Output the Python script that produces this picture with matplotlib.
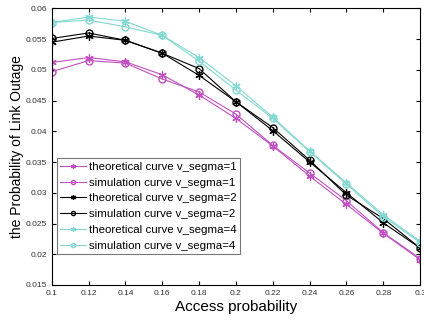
import matplotlib
matplotlib.use('Agg')
import matplotlib.pyplot as plt

plt.rcParams['font.family'] = ['Liberation Sans', 'DejaVu Sans']

p = [0.1, 0.12, 0.14, 0.16, 0.18, 0.2, 0.22, 0.24, 0.26, 0.28, 0.3]

theory_1 = [0.0512, 0.0520, 0.0513, 0.0492, 0.0459, 0.0421, 0.0376, 0.0327, 0.0281, 0.0234, 0.0191]
sim_1 = [0.0497, 0.0515, 0.0511, 0.0485, 0.0464, 0.0428, 0.0377, 0.0332, 0.0287, 0.0235, 0.0193]
theory_2 = [0.0545, 0.0555, 0.0548, 0.0527, 0.0491, 0.0448, 0.0401, 0.0350, 0.0300, 0.0251, 0.0210]
sim_2 = [0.0551, 0.0560, 0.0548, 0.0527, 0.0502, 0.0448, 0.0406, 0.0353, 0.0296, 0.0258, 0.0210]
theory_4 = [0.0577, 0.0586, 0.0579, 0.0556, 0.0520, 0.0474, 0.0423, 0.0368, 0.0316, 0.0264, 0.0221]
sim_4 = [0.0577, 0.0581, 0.0570, 0.0556, 0.0514, 0.0467, 0.0421, 0.0367, 0.0314, 0.0261, 0.0219]

magenta = '#c050c0'
cyan = '#80d8d0'
star = (6, 2, 0)  # matlab-like asterisk

fig = plt.figure(figsize=(4.24, 3.22), dpi=100)
ax = fig.add_axes([0.122, 0.115, 0.869, 0.859])

ax.plot(p, theory_1, color=magenta, marker=star, ms=6, mew=0.9, lw=0.8, label='theoretical curve v_segma=1')
ax.plot(p, sim_1, color=magenta, marker='o', ms=5, mfc='none', lw=0.8, label='simulation curve v_segma=1')
ax.plot(p, theory_2, color='black', marker=star, ms=6, mew=0.9, lw=0.8, label='theoretical curve v_segma=2')
ax.plot(p, sim_2, color='black', marker='o', ms=5, mfc='none', lw=0.8, label='simulation curve v_segma=2')
ax.plot(p, theory_4, color=cyan, marker=star, ms=6, mew=0.9, lw=0.8, label='theoretical curve v_segma=4')
ax.plot(p, sim_4, color=cyan, marker='o', ms=5, mfc='none', lw=0.8, label='simulation curve v_segma=4')

ax.set_xlim(0.1, 0.3)
ax.set_ylim(0.015, 0.06)
ax.set_xticks(p)
ax.set_xticklabels([f'{v:g}' for v in p])
ax.set_yticks([0.015, 0.02, 0.025, 0.03, 0.035, 0.04, 0.045, 0.05, 0.055, 0.06])
ax.set_yticklabels(['0.015', '0.02', '0.025', '0.03', '0.035', '0.04', '0.045', '0.05', '0.055', '0.06'])
ax.tick_params(direction='in', top=True, right=True, labelsize=6, labelcolor='#333333', length=3)

ax.set_xlabel('Access probability', fontsize=11, labelpad=2)
ax.set_ylabel('the Probability of Link Outage', fontsize=10, labelpad=1)

leg = ax.legend(loc='lower left', bbox_to_anchor=(0.0144, 0.112), fontsize=8.25, handlelength=2.2,
                handletextpad=0.25, borderpad=0.3, labelspacing=0.5, fancybox=False,
                edgecolor='#555555', markerscale=0.6, borderaxespad=0)
leg.get_frame().set_linewidth(0.8)

fig.savefig('out.png', dpi=100)
